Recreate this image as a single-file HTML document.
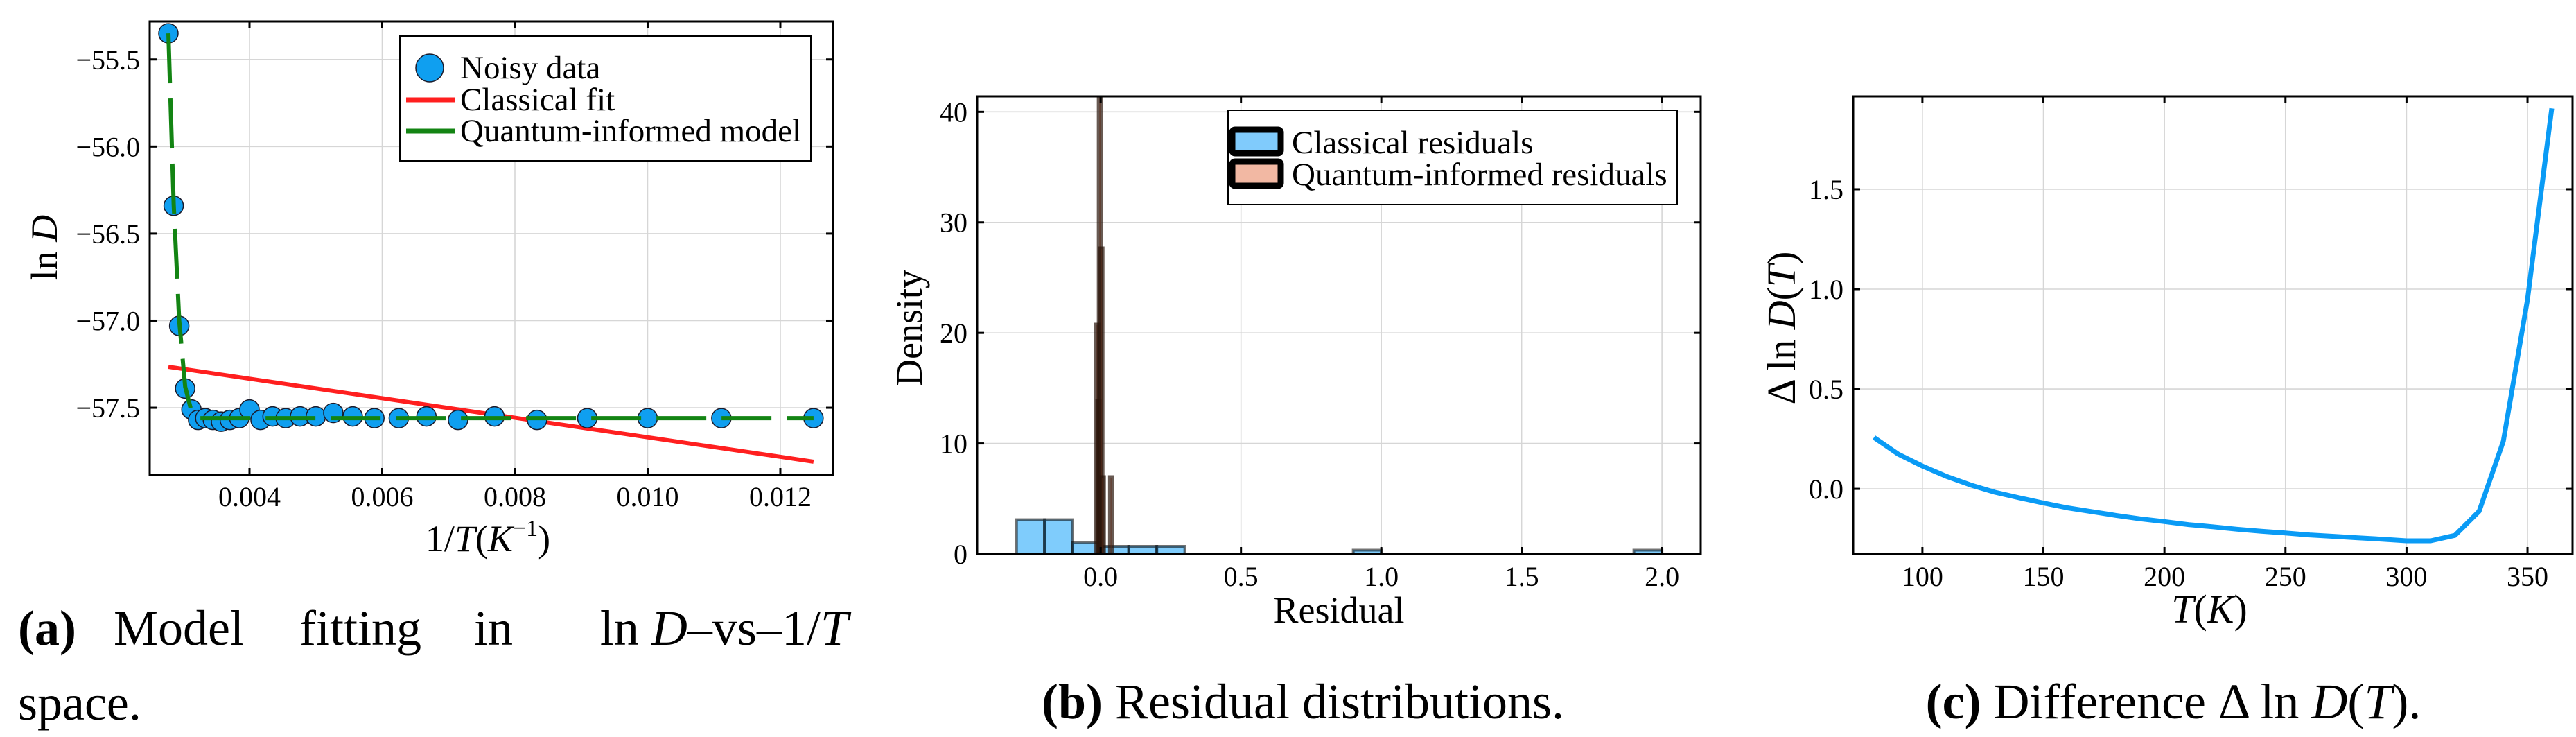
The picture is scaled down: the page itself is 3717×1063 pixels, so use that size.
<!DOCTYPE html>
<html><head><meta charset="utf-8"><style>
html,body{margin:0;padding:0;background:#fff;}
svg{display:block;}
text{font-family:"Liberation Serif",serif;fill:#000;}
</style></head><body>
<svg id="fig" width="3717" height="1063" viewBox="0 0 3717 1063" xmlns="http://www.w3.org/2000/svg">
<g id="pa"></g>
<g id="pb"></g>
<g id="pc"></g>
<g font-size="72">
<text x="26" y="930" font-weight="bold">(a)</text>
<text x="164" y="930">Model</text>
<text x="432" y="930">fitting</text>
<text x="684" y="930">in</text>
<text x="1224" y="930" text-anchor="end">ln <tspan font-style="italic">D</tspan>–vs–1/<tspan font-style="italic">T</tspan></text>
<text x="26" y="1038">space.</text>
</g>
<text x="1880" y="1036" font-size="72" text-anchor="middle"><tspan font-weight="bold">(b)</tspan> Residual distributions.</text>
<text x="3136" y="1036" font-size="72" text-anchor="middle"><tspan font-weight="bold">(c)</tspan> Difference Δ ln <tspan font-style="italic">D</tspan>(<tspan font-style="italic">T</tspan>).</text>
</svg>
<script>
// ---------- Panel A data ----------
const tempsA = [360,350,340,330,320,310,300,290,280,270,260,250,240,230,220,210,200,190,180,170,160,150,140,130,120,110,100,90,80];
const noisyA = [-55.35,-56.34,-57.03,-57.39,-57.51,-57.57,-57.56,-57.57,-57.58,-57.57,-57.56,-57.51,-57.57,-57.55,-57.56,-57.55,-57.55,-57.53,-57.55,-57.56,-57.56,-57.55,-57.57,-57.55,-57.57,-57.56,-57.56,-57.56,-57.56];
const quantumA = [-55.35,-56.33,-57.0,-57.38,-57.52,-57.56,-57.56,-57.56,-57.56,-57.56,-57.56,-57.56,-57.56,-57.56,-57.56,-57.56,-57.56,-57.56,-57.56,-57.56,-57.56,-57.56,-57.56,-57.56,-57.56,-57.56,-57.56,-57.56,-57.56];
const classicalEndsA = [-57.265,-57.81];
const xTicksA = [0.004,0.006,0.008,0.010,0.012];
const xTickLabelsA = ["0.004","0.006","0.008","0.010","0.012"];
const yTicksA = [-55.5,-56.0,-56.5,-57.0,-57.5];
const yTickLabelsA = ["−55.5","−56.0","−56.5","−57.0","−57.5"];
// ---------- Panel B data ----------
const classBinStarts = [-0.3,-0.2,-0.1,0,0.1,0.2,0.3,0.4,0.5,0.6,0.7,0.8,0.9,1.0,1.1,1.2,1.3,1.4,1.5,1.6,1.7,1.8,1.9];
const classDensity = [3.10,3.10,1.03,0.69,0.69,0.69,0,0,0,0,0,0,0.345,0,0,0,0,0,0,0,0,0,0.345];
const classBinWidth = 0.1;
const quantBinStarts = [-0.015,-0.01,-0.005,0,0.005,0.035];
const quantDensity = [20.7,13.8,60,27.6,6.9,6.9];
const quantBinWidth = 0.005;
const xTicksB = [0,0.5,1.0,1.5,2.0];
const xTickLabelsB = ["0.0","0.5","1.0","1.5","2.0"];
const yTicksB = [0,10,20,30,40];
const yTickLabelsB = ["0","10","20","30","40"];
// ---------- Panel C data ----------
const tempsC = [80,90,100,110,120,130,140,150,160,170,180,190,200,210,220,230,240,250,260,270,280,290,300,310,320,330,340,350,360];
const diffC = [0.257,0.174,0.114,0.062,0.019,-0.017,-0.045,-0.071,-0.095,-0.114,-0.133,-0.150,-0.164,-0.179,-0.19,-0.202,-0.212,-0.221,-0.231,-0.238,-0.245,-0.252,-0.26,-0.26,-0.233,-0.112,0.238,0.948,1.905];
const xTicksC = [100,150,200,250,300,350];
const xTickLabelsC = ["100","150","200","250","300","350"];
const yTicksC = [0,0.5,1.0,1.5];
const yTickLabelsC = ["0.0","0.5","1.0","1.5"];

const NS="http://www.w3.org/2000/svg";
function mk(parent,tag,attrs){const e=document.createElementNS(NS,tag);for(const k in attrs)e.setAttribute(k,attrs[k]);parent.appendChild(e);return e;}
function lin(d0,d1,p0,p1){return v=>p0+(v-d0)/(d1-d0)*(p1-p0);}

function axes(g,box,sx,sy,xt,yt){
  xt.forEach(v=>{const x=sx(v);const l=mk(g,'line',{x1:x,x2:x,y1:box.t,y2:box.b,stroke:'#d6d6d6','stroke-width':1.6});
    
    });
  yt.forEach(v=>{const y=sy(v);const l=mk(g,'line',{x1:box.l,x2:box.r,y1:y,y2:y,stroke:'#d6d6d6','stroke-width':1.6});
    
    });
}
function frame(g,box,sx,sy,xt,xl,yt,yl,xLabY){
  const f=mk(g,'rect',{x:box.l,y:box.t,width:box.r-box.l,height:box.b-box.t,fill:'none',stroke:'#000','stroke-width':3});
  
  
  xt.forEach((v,i)=>{const x=sx(v);
    mk(g,'line',{x1:x,x2:x,y1:box.b,y2:box.b-10,stroke:'#000','stroke-width':3});
    mk(g,'line',{x1:x,x2:x,y1:box.t,y2:box.t+10,stroke:'#000','stroke-width':3});
    const t=mk(g,'text',{x:x,y:xLabY,'font-size':40,'text-anchor':'middle'});t.textContent=xl[i];
    
    });
  yt.forEach((v,i)=>{const y=sy(v);
    mk(g,'line',{x1:box.l,x2:box.l+10,y1:y,y2:y,stroke:'#000','stroke-width':3});
    mk(g,'line',{x1:box.r,x2:box.r-10,y1:y,y2:y,stroke:'#000','stroke-width':3});
    const t=mk(g,'text',{x:box.l-14,y:y+14,'font-size':40,'text-anchor':'end'});t.textContent=yl[i];
    
    });
}

// ===== Panel A =====
(function(){
  const g=document.getElementById('pa');
  const box={l:216,r:1202,t:31,b:685};
  const sx=lin(0.002496,0.012794,box.l,box.r), sy=lin(-55.282,-57.886,box.t,box.b);
  axes(g,box,sx,sy,xTicksA,yTicksA);
  const cl=mk(g,'line',{x1:sx(1/tempsA[0]),y1:sy(classicalEndsA[0]),x2:sx(1/tempsA[tempsA.length-1]),y2:sy(classicalEndsA[1]),stroke:'#ff1f1f','stroke-width':6});
  
  
  noisyA.forEach((v,i)=>{const c=mk(g,'circle',{cx:sx(1/tempsA[i]),cy:sy(v),r:14,fill:'#0f9ff0',stroke:'#1a1a2a','stroke-width':1.5});
    
    });
  const qd=quantumA.map((v,i)=>(i?'L':'M')+sx(1/tempsA[i]).toFixed(1)+' '+sy(v).toFixed(1)).join(' ');
  const q=mk(g,'path',{d:qd,fill:'none',stroke:'#138413','stroke-width':6,'stroke-dasharray':'72 22'});
  
  
  frame(g,box,sx,sy,xTicksA,xTickLabelsA,yTicksA,yTickLabelsA,730);
  const lg=mk(g,'g',{});
  
  
  mk(lg,'rect',{x:577,y:52,width:593,height:180,fill:'#fff',stroke:'#000','stroke-width':2});
  mk(lg,'circle',{cx:620,cy:98,r:20,fill:'#0f9ff0',stroke:'#1a1a2a','stroke-width':1.5});
  mk(lg,'line',{x1:586,x2:656,y1:144,y2:144,stroke:'#ff1f1f','stroke-width':7});
  mk(lg,'line',{x1:586,x2:656,y1:189,y2:189,stroke:'#138413','stroke-width':7});
  [['Noisy data',98,'legend-entry-noisy'],['Classical fit',144,'legend-entry-classical'],['Quantum-informed model',189,'legend-entry-quantum']].forEach(e=>{
    const t=mk(lg,'text',{x:664,y:e[1]+15,'font-size':47});t.textContent=e[0];
    
    });
  const yl=mk(g,'text',{x:0,y:0,'font-size':54,'text-anchor':'middle',transform:'translate(82,357) rotate(-90)'});
  yl.innerHTML='ln <tspan font-style="italic">D</tspan>';
  
  
  const xl=mk(g,'text',{x:704,y:795,'font-size':54,'text-anchor':'middle'});
  xl.innerHTML='1/<tspan font-style="italic">T</tspan>(<tspan font-style="italic">K</tspan><tspan font-size="34" dy="-22">−1</tspan><tspan dy="22">)</tspan>';
  
  
})();

// ===== Panel B =====
(function(){
  const g=document.getElementById('pb');
  const box={l:1410,r:2454,t:139,b:799};
  const sx=lin(-0.44,2.138,box.l,box.r), sy=lin(41.4,0,box.t,box.b);
  axes(g,box,sx,sy,xTicksB,yTicksB);
  const clip=mk(g,'clipPath',{id:'clipb'});mk(clip,'rect',{x:box.l,y:box.t,width:box.r-box.l,height:box.b-box.t});
  const bars=mk(g,'g',{'clip-path':'url(#clipb)'});
  classBinStarts.forEach((s,i)=>{const x0=sx(s),x1=sx(s+classBinWidth),y=sy(classDensity[i]);
    const r=mk(bars,'rect',{x:x0,y:y,width:x1-x0,height:box.b-y,fill:'rgba(0,154,250,0.5)',stroke:'rgba(0,0,0,0.55)','stroke-width':4});
    
    });
  quantBinStarts.forEach((s,i)=>{const x0=sx(s),x1=sx(s+quantBinWidth),y=sy(quantDensity[i]);
    const r=mk(bars,'rect',{x:x0,y:y,width:x1-x0,height:box.b-y,fill:'rgba(227,111,71,0.5)',stroke:'rgba(40,20,10,0.7)','stroke-width':7});
    
    });
  frame(g,box,sx,sy,xTicksB,xTickLabelsB,yTicksB,yTickLabelsB,845);
  const lg=mk(g,'g',{});
  
  
  mk(lg,'rect',{x:1772,y:159,width:648,height:136,fill:'#fff',stroke:'#000','stroke-width':2});
  mk(lg,'rect',{x:1778,y:187,width:70,height:34,rx:4,fill:'#80cbfc',stroke:'#000','stroke-width':9});
  mk(lg,'rect',{x:1778,y:233,width:70,height:35,rx:4,fill:'#f2b8a3',stroke:'#000','stroke-width':9});
  [['Classical residuals',206,'legend-entry-classical'],['Quantum-informed residuals',252,'legend-entry-quantum']].forEach(e=>{
    const t=mk(lg,'text',{x:1864,y:e[1]+15,'font-size':47});t.textContent=e[0];
    
    });
  const yl=mk(g,'text',{x:0,y:0,'font-size':54,'text-anchor':'middle',transform:'translate(1330,473) rotate(-90)'});
  yl.textContent='Density';
  
  
  const xl=mk(g,'text',{x:1932,y:898,'font-size':54,'text-anchor':'middle'});
  xl.textContent='Residual';
  
  
})();

// ===== Panel C =====
(function(){
  const g=document.getElementById('pc');
  const box={l:2674,r:3712,t:139,b:799};
  const sx=lin(71.4,368.6,box.l,box.r), sy=lin(1.965,-0.326,box.t,box.b);
  axes(g,box,sx,sy,xTicksC,yTicksC);
  const d=diffC.map((v,i)=>(i?'L':'M')+sx(tempsC[i]).toFixed(1)+' '+sy(v).toFixed(1)).join(' ');
  const p=mk(g,'path',{d:d,fill:'none',stroke:'#0a9bf5','stroke-width':7,'stroke-linejoin':'round'});
  
  
  frame(g,box,sx,sy,xTicksC,xTickLabelsC,yTicksC,yTickLabelsC,845);
  const yl=mk(g,'text',{x:0,y:0,'font-size':58,'text-anchor':'middle',transform:'translate(2590,473) rotate(-90)'});
  yl.innerHTML='Δ ln <tspan font-style="italic">D</tspan>(<tspan font-style="italic">T</tspan>)';
  
  
  const xl=mk(g,'text',{x:3188,y:898,'font-size':58,'text-anchor':'middle'});
  xl.innerHTML='<tspan font-style="italic">T</tspan>(<tspan font-style="italic">K</tspan>)';
  
  
})();
</script>
</body></html>
